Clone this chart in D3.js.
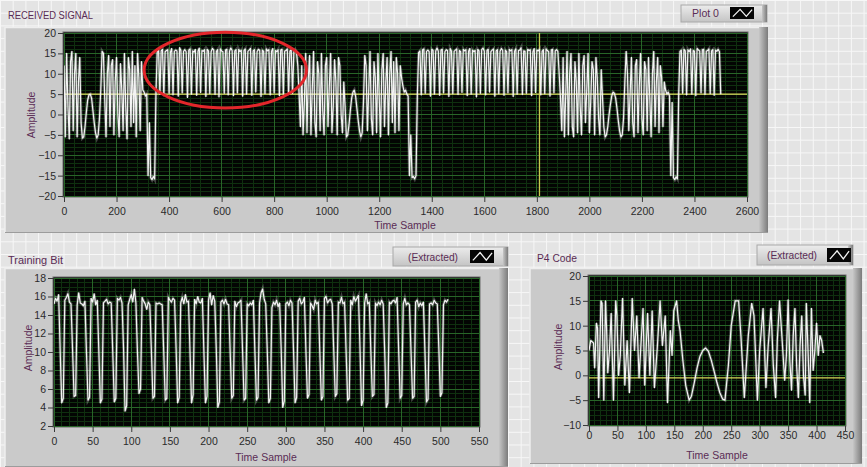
<!DOCTYPE html>
<html>
<head>
<meta charset="utf-8">
<script src="https://cdn.jsdelivr.net/npm/d3@7"></script>
<style>
  body { margin: 0; background: #e5e5e5; }
  svg { display: block; font-family: "Liberation Sans", Arial, sans-serif; }
</style>
</head>
<body>
<div id="chart"></div>
<script>
// ---- data ----

// received signal, one value every 5 samples (0 .. 2500)
var receivedStep = 5;
var receivedValues = [
  12, -5.5, 15, 2, -6, 13, 15.5, -4, 10, 15,
  -5.5, 8, 14, -2, -5.8, -5.5, -3, 0.5, 3.5, 4.8,
  5, 4, 1, -2, -4.5, -5.8, -5, -1, 6, 15.5,
  15, 4, -5.5, 10, 14.5, -3, 12, 13.5, -5, 8,
  14, 0, -5.5, 12.5, 6, -4, 15, 2, -6, 14,
  11, -3, 15.5, -2, 12, -5.5, 15, 9, -4, 13,
  6, 5.5, 4.5, 5, -15, -2, -15.5, -16, -15.2, -15.8,
  5, 15.5, 15.8, 5.0, 15.6, 16.0, 4.6, 15.4, 15.7, 15.9,
  5.2, 15.3, 16.2, 4.8, 15.5, 15.8, 15.6, 4.5, 16.4, 15.7,
  5.3, 15.5, 15.9, 15.4, 4.2, 15.8, 16.1, 5.0, 15.6, 15.3,
  16.0, 4.7, 15.5, 16.3, 5.4, 15.7, 15.5, 15.9, 4.4, 16.0,
  15.6, 5.1, 15.4, 16.2, 15.8, 4.9, 15.5, 15.9, 4.3, 16.1,
  15.6, 15.4, 5.2, 15.8, 16.0, 4.8, 15.5, 16.3, 15.7, 4.6,
  15.6, 15.9, 5.3, 16.0, 15.4, 15.8, 4.5, 15.7, 16.1, 5.0,
  15.5, 15.8, 16.2, 4.7, 15.6, 15.9, 5.5, 15.4, 16.0, 15.7,
  4.4, 15.8, 15.5, 5.1, 16.1, 15.6, 15.9, 4.8, 15.5, 16.2,
  5.3, 15.7, 15.4, 15.9, 4.6, 15.8, 16.0, 5.0, 15.5, 15.7,
  16.1, 4.9, 15.6, 15.8, 5.2, 15.4, 15.9, 15.3, 12, 5,
  -3, 12, -5, 3, 15, -4.5, 9, 14.5, -5, 6,
  15.5, -2, -5.5, 13, 10, -4, 15, 1, -5, 12,
  14, -3, 7, 15, -4.5, 2, 13.5, 8, -5, 14,
  12, 0, -4.5, 8, 2, -5.5, -5, -2.5, 1, 4,
  5.5, 6, 4.5, 1.5, -1.5, -4, -5.5, -4.5, 3, 14.5,
  12, -4, 6, 15.5, -1, -5, 13, 9, -4.5, 15,
  4, -5.5, 11, 15, -3, 8, 14, -5, 10, 15.5,
  -2, 13, -4.5, 14, 10, -4, 12, 9, 7, 5.5,
  6, 5, 4.5, -15, -5, -15.5, -15.2, -15.8, -15, 4.5,
  15.2, 15.6, 4.8, 15.9, 16.1, 5.2, 15.5, 15.8, 15.4, 4.5,
  16.0, 15.7, 5.0, 15.6, 16.3, 15.5, 4.7, 15.8, 16.0, 5.3,
  15.4, 15.9, 15.7, 4.4, 16.2, 15.6, 5.1, 15.5, 15.8, 16.1,
  4.9, 15.7, 15.4, 5.4, 16.0, 15.6, 15.9, 4.6, 15.5, 16.2,
  5.0, 15.8, 15.4, 15.7, 4.3, 16.0, 15.6, 5.2, 15.9, 16.3,
  15.5, 4.8, 15.7, 16.0, 5.5, 15.4, 15.8, 16.1, 4.5, 15.6,
  15.9, 5.1, 15.5, 16.2, 15.7, 4.7, 15.8, 15.4, 5.3, 16.0,
  15.6, 15.9, 4.4, 15.5, 16.1, 5.0, 15.7, 15.8, 16.4, 4.9,
  15.6, 15.5, 5.2, 16.0, 15.7, 15.9, 4.6, 15.4, 16.2, 5.4,
  15.8, 15.6, 16.0, 4.8, 15.5, 15.9, 5.1, 16.1, 15.7, 15.4,
  4.5, 15.8, 16.0, 5.3, 15.6, 15.9, 15.5, 10, 4, -4,
  14, -5.5, 5, 15.5, -5, 10, 15, -3, -5.5, 13,
  8, -4.5, 15, 2, -5, 12, 14.5, -2, 6, 15,
  -4.5, 3, 13, 11, -5, 14, 9, -1, -5, 11,
  4, -3, -5.5, -5, -3, 0, 2.5, 4.5, 5.5, 5.2,
  4, 1.5, -1.5, -4, -5.5, -5, -1, 8, 15.5, 10,
  -4, 5, 14, -2, -5.5, 12, 13.5, -4.5, 7, 15,
  -1, -5, 13, 11, -4, 14, 4, -5.5, 10, 15.5,
  -3, 8, 14, -4.5, 12, 9, -3, 8, 6, 5,
  5.5, 4.5, -15, 3, -15.5, -16, -15.3, -15.8, 5, 15.5,
  15.8, 5.2, 16.0, 15.6, 4.8, 15.9, 15.4, 16.1, 5.0, 15.7,
  15.5, 4.6, 16.2, 15.8, 15.6, 5.3, 15.9, 16.0, 4.9, 15.5,
  15.7, 16.1, 5.1, 15.6, 15.9, 4.7, 15.8, 15.5, 16.0, 15.4,
  5.0
];
var receivedXTicks = [0, 200, 400, 600, 800, 1000, 1200, 1400, 1600, 1800, 2000, 2200, 2400, 2600];
var receivedYTicks = [-20, -15, -10, -5, 0, 5, 10, 15, 20];
var receivedLevel = 5;      // yellow horizontal cursor
var receivedCursor = 1810;  // yellow vertical cursor
// red ring drawn round the first training block: centre sample, centre amplitude, half width (samples), half height (amplitude)
var highlightRing = [614, 10.9, 309, 9.3];

// extracted training bit, one value every 2 samples (0 .. 510)
var trainingStep = 2;
var trainingValues = [
  15.2, 15.8, 15.5, 16.2, 10.1, 4.5, 5.0, 15.6, 15.9, 16.3,
  15.4, 15.2, 10.3, 5.2, 5.3, 15.1, 16.4, 15.3, 15.2, 15.0,
  15.5, 10.0, 4.8, 5.1, 15.8, 15.4, 16.3, 15.1, 15.6, 10.2,
  4.5, 4.9, 15.3, 15.5, 15.7, 15.2, 15.4, 15.3, 10.1, 4.6,
  5.0, 15.8, 15.6, 15.9, 15.3, 10.4, 3.6, 4.2, 15.1, 15.7,
  16.2, 15.4, 16.8, 15.3, 10.0, 5.5, 6.0, 15.9, 15.5, 15.2,
  14.6, 15.4, 15.1, 10.2, 5.0, 5.2, 15.3, 15.2, 15.3, 15.2,
  15.1, 10.1, 4.8, 5.0, 15.9, 15.6, 15.4, 15.8, 15.6, 10.4,
  4.5, 5.1, 15.3, 15.9, 15.2, 16.2, 15.4, 15.5, 10.1, 4.5,
  5.4, 15.7, 15.2, 16.0, 15.4, 15.3, 15.8, 10.0, 4.5, 5.2,
  15.6, 16.4, 15.1, 16.1, 15.5, 10.3, 4.0, 4.6, 15.4, 15.6,
  15.2, 15.7, 15.2, 15.1, 10.0, 5.0, 5.3, 15.5, 14.9, 15.3,
  15.4, 15.6, 10.2, 4.8, 5.0, 15.2, 15.0, 15.3, 15.1, 15.6,
  10.0, 4.8, 5.1, 15.3, 16.4, 16.8, 15.7, 15.2, 10.1, 4.5,
  5.0, 14.8, 15.4, 15.1, 15.6, 14.9, 15.3, 10.3, 4.0, 4.7,
  15.2, 15.4, 15.0, 15.6, 15.3, 10.1, 4.5, 5.1, 15.5, 15.8,
  15.2, 15.4, 15.9, 10.2, 5.0, 5.4, 15.3, 15.0, 14.6, 15.6,
  15.2, 15.4, 10.0, 4.8, 5.2, 15.8, 16.0, 15.3, 15.6, 15.7,
  15.2, 10.3, 5.2, 5.5, 15.4, 15.3, 15.9, 15.2, 15.4, 10.1,
  4.8, 5.0, 15.6, 15.1, 16.0, 15.5, 15.8, 16.1, 10.4, 4.2,
  4.8, 15.3, 16.3, 15.2, 15.4, 10.2, 5.2, 5.4, 15.3, 15.0,
  15.4, 15.1, 15.6, 15.2, 10.0, 4.0, 4.5, 15.4, 15.2, 15.5,
  15.6, 15.3, 15.9, 10.3, 5.0, 5.3, 15.2, 15.8, 15.1, 15.3,
  15.1, 10.1, 5.0, 5.2, 15.4, 15.6, 14.9, 15.3, 15.0, 15.4,
  10.2, 4.6, 4.9, 15.2, 15.3, 15.1, 15.6, 15.3, 15.2, 10.5,
  5.2, 5.6, 15.1, 15.6, 15.4, 15.7
];
var trainingXTicks = [0, 50, 100, 150, 200, 250, 300, 350, 400, 450, 500, 550];
var trainingYTicks = [2, 4, 6, 8, 10, 12, 14, 16, 18];

// extracted P4 code, turning points (sample, amplitude)
var p4Samples = [
  0, 3, 8, 10, 13, 15, 17, 21, 23, 26,
  29, 31, 33, 36, 39, 43, 47, 49, 52, 55,
  59, 63, 67, 71, 76, 80, 84, 88, 95, 98,
  103, 107, 111, 115, 120, 125, 129, 134, 138, 143,
  146, 149, 154, 157, 160, 165, 170, 176, 180, 185,
  190, 195, 200, 205, 210, 215, 220, 225, 230, 235,
  239, 245, 250, 257, 263, 267, 273, 280, 286, 290,
  296, 300, 306, 311, 315, 320, 324, 328, 331, 335,
  339, 344, 347, 350, 353, 356, 359, 362, 365, 368,
  371, 374, 377, 380, 382, 385, 388, 391, 394, 397,
  400, 403, 406, 409, 412
];
var p4Values = [
  5, 7, 6.5, 1.5, 10.5, 9.5, -4.5, 15, 14.5, -5,
  15, 9, 0.5, 5, 12.5, -5, 15, 12, 0, 4,
  15.5, -2, 7, -3.5, 15.5, 5, 12, -0.5, 13.5, -2,
  12.5, 0, 13, -2.5, 5.5, 15, 6, 12, -5.5, 9,
  4, 13, 15, 11, 9, 3, -2, -5, -4.2, -1.5,
  1.5, 3.8, 5, 5.5, 4.8, 3, 0.8, -1.5, -3.5, -4.8,
  -5, 2, 10, 15, 15, 8, -4.5, 8, 14.5, 12,
  -5, 5, 13.5, -2.5, 6, 13.5, 2, -4.5, 7, 15,
  8, -1, 4, 15.2, 3, -3, 8, 13.5, 2, -4.5,
  6, 12, 0, -4, 14.5, 5, -5.5, 13.5, 1, 5,
  10.5, 4, 8, 7, 4.5
];
var p4XTicks = [0, 50, 100, 150, 200, 250, 300, 350, 400, 450];
var p4YTicks = [-10, -5, 0, 5, 10, 15, 20];
var p4Level = -0.5;

// ---- drawing ----

var W = 867, H = 467;
var labelColor = "#5a2c55";

var svg = d3.select("#chart").append("svg")
  .attr("width", W)
  .attr("height", H);

var defs = svg.append("defs");

// LabVIEW front panel grid
var pat = defs.append("pattern")
  .attr("id", "panelGrid")
  .attr("patternUnits", "userSpaceOnUse")
  .attr("width", 12.7).attr("height", 12.7);
pat.append("rect").attr("width", 12.7).attr("height", 12.7).attr("fill", "#e4e4e4");
pat.append("path").attr("d", "M0 0.5H12.7M0.5 0V12.7")
  .attr("stroke", "#f7f7f7").attr("stroke-width", 1);

svg.append("rect").attr("width", W).attr("height", H).attr("fill", "url(#panelGrid)");

var edge = defs.append("linearGradient").attr("id", "edgeShade")
  .attr("x1", 0).attr("x2", 1).attr("y1", 0).attr("y2", 0);
edge.append("stop").attr("offset", 0).attr("stop-color", "#c6c6c6");
edge.append("stop").attr("offset", 1).attr("stop-color", "#7b7b7b");

var legendFill = defs.append("linearGradient").attr("id", "legendFill")
  .attr("x1", 0).attr("x2", 0).attr("y1", 0).attr("y2", 1);
legendFill.append("stop").attr("offset", 0).attr("stop-color", "#ececec");
legendFill.append("stop").attr("offset", 1).attr("stop-color", "#c4c4c4");

function drawGraph(cfg, id) {
  var g = svg.append("g");
  var f = cfg.frame;

  // raised grey frame
  g.append("rect").attr("x", f[0]).attr("y", f[1]).attr("width", f[2]).attr("height", f[3])
    .attr("fill", "#cacaca");
  g.append("rect").attr("x", f[0] + f[2] - 9).attr("y", f[1]).attr("width", 9).attr("height", f[3])
    .attr("fill", "url(#edgeShade)");
  g.append("path")
    .attr("d", "M" + f[0] + "," + (f[1] + f[3]) + "V" + (f[1] + 0.5) + "H" + (f[0] + f[2] - 9))
    .attr("fill", "none").attr("stroke", "#eeeeee").attr("stroke-width", 1.5);
  g.append("line")
    .attr("x1", f[0]).attr("x2", f[0] + f[2]).attr("y1", f[1] + f[3] - 0.5).attr("y2", f[1] + f[3] - 0.5)
    .attr("stroke", "#9c9c9c");

  // title above the frame
  g.append("text").attr("x", cfg.title.x).attr("y", cfg.title.y)
    .attr("font-size", 10).attr("fill", labelColor)
    .attr("textLength", cfg.title.len).attr("lengthAdjust", "spacingAndGlyphs")
    .text(cfg.title.text);

  // plot legend
  var lg = cfg.legend;
  g.append("rect").attr("x", lg.box[0]).attr("y", lg.box[1]).attr("width", lg.box[2]).attr("height", lg.box[3])
    .attr("fill", "url(#legendFill)").attr("stroke", "#a8a8a8");
  g.append("rect").attr("x", lg.box[0] + lg.box[2] - 5).attr("y", lg.box[1]).attr("width", 5).attr("height", lg.box[3])
    .attr("fill", "url(#edgeShade)");
  g.append("text").attr("x", lg.tx).attr("y", lg.ty)
    .attr("font-size", 10).attr("fill", labelColor)
    .attr("textLength", lg.len).attr("lengthAdjust", "spacingAndGlyphs")
    .text(lg.text);
  var s = lg.swatch;
  g.append("rect").attr("x", s[0]).attr("y", s[1]).attr("width", s[2]).attr("height", s[3]).attr("fill", "#050505");
  g.append("polyline")
    .attr("points", [
      [s[0] + s[2] * 0.12, s[1] + s[3] * 0.8],
      [s[0] + s[2] * 0.42, s[1] + s[3] * 0.2],
      [s[0] + s[2] * 0.68, s[1] + s[3] * 0.78],
      [s[0] + s[2] * 0.92, s[1] + s[3] * 0.22]
    ].join(" "))
    .attr("fill", "none").attr("stroke", "#f2f2f2").attr("stroke-width", 1.3);

  // scales
  var p = cfg.plot;
  var x = d3.scaleLinear().domain(cfg.xDomain).range([p[0], p[1]]);
  var y = d3.scaleLinear().domain(cfg.yDomain).range([p[3], p[2]]);

  // black plot area
  g.append("rect").attr("x", p[0] - 1).attr("y", p[2] - 1)
    .attr("width", p[1] - p[0] + 2).attr("height", p[3] - p[2] + 2)
    .attr("fill", "#030503").attr("stroke", "#6a6a6a").attr("stroke-width", 1);

  var eps = 1e-9;
  var xMinor = d3.range(cfg.xDomain[0], cfg.xDomain[1] + eps, cfg.xMinor);
  var yMinor = d3.range(cfg.yDomain[0], cfg.yDomain[1] + eps, cfg.yMinor);

  var grid = g.append("g").attr("shape-rendering", "crispEdges");
  grid.selectAll(".vminor").data(xMinor).enter().append("line")
    .attr("x1", function(d) { return x(d); }).attr("x2", function(d) { return x(d); })
    .attr("y1", p[2]).attr("y2", p[3])
    .attr("stroke", "#0f300f");
  grid.selectAll(".hminor").data(yMinor).enter().append("line")
    .attr("y1", function(d) { return y(d); }).attr("y2", function(d) { return y(d); })
    .attr("x1", p[0]).attr("x2", p[1])
    .attr("stroke", "#0f300f");
  grid.selectAll(".vmajor").data(cfg.xTicks).enter().append("line")
    .attr("x1", function(d) { return x(d); }).attr("x2", function(d) { return x(d); })
    .attr("y1", p[2]).attr("y2", p[3])
    .attr("stroke", "#286528");
  grid.selectAll(".hmajor").data(cfg.yTicks).enter().append("line")
    .attr("y1", function(d) { return y(d); }).attr("y2", function(d) { return y(d); })
    .attr("x1", p[0]).attr("x2", p[1])
    .attr("stroke", "#286528");

  // clip for cursors and trace
  defs.append("clipPath").attr("id", "clip" + id)
    .append("rect").attr("x", p[0]).attr("y", p[2]).attr("width", p[1] - p[0]).attr("height", p[3] - p[2]);
  var inner = g.append("g").attr("clip-path", "url(#clip" + id + ")");

  if (cfg.level != null) {
    inner.append("line").attr("x1", p[0]).attr("x2", p[1])
      .attr("y1", y(cfg.level)).attr("y2", y(cfg.level))
      .attr("stroke", "#d9d95a").attr("stroke-width", 1.3);
  }
  if (cfg.cursor != null) {
    inner.append("line").attr("y1", p[2]).attr("y2", p[3])
      .attr("x1", x(cfg.cursor)).attr("x2", x(cfg.cursor))
      .attr("stroke", "#c9c94f").attr("stroke-width", 1.3);
  }

  var line = d3.line()
    .x(function(d) { return x(d[0]); })
    .y(function(d) { return y(d[1]); });

  // soft halo then the trace itself
  inner.append("path").datum(cfg.data).attr("d", line)
    .attr("fill", "none").attr("stroke", "#ffffff").attr("stroke-opacity", 0.25).attr("stroke-width", 3);
  inner.append("path").datum(cfg.data).attr("d", line)
    .attr("fill", "none").attr("stroke", "#f4f4f4").attr("stroke-width", 1.2)
    .attr("stroke-linejoin", "round");

  // red ring annotation (not clipped: it pokes above the plot)
  if (cfg.ring) {
    var r = cfg.ring;
    g.append("ellipse")
      .attr("cx", x(r[0])).attr("cy", y(r[1]))
      .attr("rx", x(r[0] + r[2]) - x(r[0])).attr("ry", y(r[1] - r[3]) - y(r[1]))
      .attr("fill", "none").attr("stroke", "#e3262b").attr("stroke-width", 3);
  }

  // axes
  var xa = g.append("g").attr("transform", "translate(0," + (p[3] + 1) + ")")
    .call(d3.axisBottom(x).tickValues(cfg.xTicks).tickSize(5).tickFormat(d3.format("d")));
  xa.selectAll("text").attr("y", cfg.xLabelOffset).attr("dy", 0);
  var ya = g.append("g").attr("transform", "translate(" + (p[0] - 1) + ",0)")
    .call(d3.axisLeft(y).tickValues(cfg.yTicks).tickSize(5).tickPadding(2).tickFormat(d3.format("d")));
  [xa, ya].forEach(function(a) {
    a.select(".domain").remove();
    a.selectAll("line").attr("stroke", "#3a3a3a");
    a.selectAll("text").attr("font-size", 10.5).attr("fill", "#2a2a2a")
      .attr("font-family", "'Liberation Sans', Arial, sans-serif");
  });

  // axis names
  g.append("text").attr("x", cfg.xName[0]).attr("y", cfg.xName[1])
    .attr("text-anchor", "middle").attr("font-size", 10.5).attr("fill", labelColor)
    .text("Time Sample");
  g.append("text")
    .attr("transform", "translate(" + cfg.yName[0] + "," + cfg.yName[1] + ") rotate(-90)")
    .attr("text-anchor", "middle").attr("font-size", 10.5).attr("fill", labelColor)
    .text("Amplitude");
}

drawGraph({
  frame: [5, 27, 763, 206],
  plot: [64, 747, 33, 196],
  xDomain: [0, 2600], yDomain: [-20, 20],
  xTicks: receivedXTicks, yTicks: receivedYTicks,
  xMinor: 40, yMinor: 1,
  title: { text: "RECEIVED SIGNAL", x: 8, y: 19, len: 85 },
  legend: { text: "Plot 0", box: [681, 5, 86, 17], tx: 692, ty: 17, len: 27, swatch: [730, 7, 24, 12] },
  xName: [405, 229], yName: [35, 115],
  xLabelOffset: 18,
  level: receivedLevel, cursor: receivedCursor,
  ring: highlightRing,
  data: receivedValues.map(function(v, i) { return [i * receivedStep, v]; })
}, "top");

drawGraph({
  frame: [5, 268, 503, 199],
  plot: [54, 479, 278, 426],
  xDomain: [0, 550], yDomain: [2, 18],
  xTicks: trainingXTicks, yTicks: trainingYTicks,
  xMinor: 10, yMinor: 0.5,
  title: { text: "Training Bit", x: 8, y: 264, len: 55 },
  legend: { text: "(Extracted)", box: [393, 247, 115, 19], tx: 408, ty: 261, len: 50, swatch: [470, 250, 24, 13] },
  xName: [266, 461], yName: [32, 348],
  xLabelOffset: 18,
  level: null, cursor: null,
  data: trainingValues.map(function(v, i) { return [i * trainingStep, v]; })
}, "train");

drawGraph({
  frame: [530, 268, 332, 196],
  plot: [589, 845, 276, 425],
  xDomain: [0, 450], yDomain: [-10, 20],
  xTicks: p4XTicks, yTicks: p4YTicks,
  xMinor: 10, yMinor: 1,
  title: { text: "P4 Code", x: 537, y: 262, len: 40 },
  legend: { text: "(Extracted)", box: [757, 245, 96, 20], tx: 767, ty: 259, len: 50, swatch: [827, 248, 24, 14] },
  xName: [717, 459], yName: [562, 347],
  xLabelOffset: 13,
  level: p4Level, cursor: null,
  data: p4Samples.map(function(sv, i) { return [sv, p4Values[i]]; })
}, "p4");
</script>
</body>
</html>
